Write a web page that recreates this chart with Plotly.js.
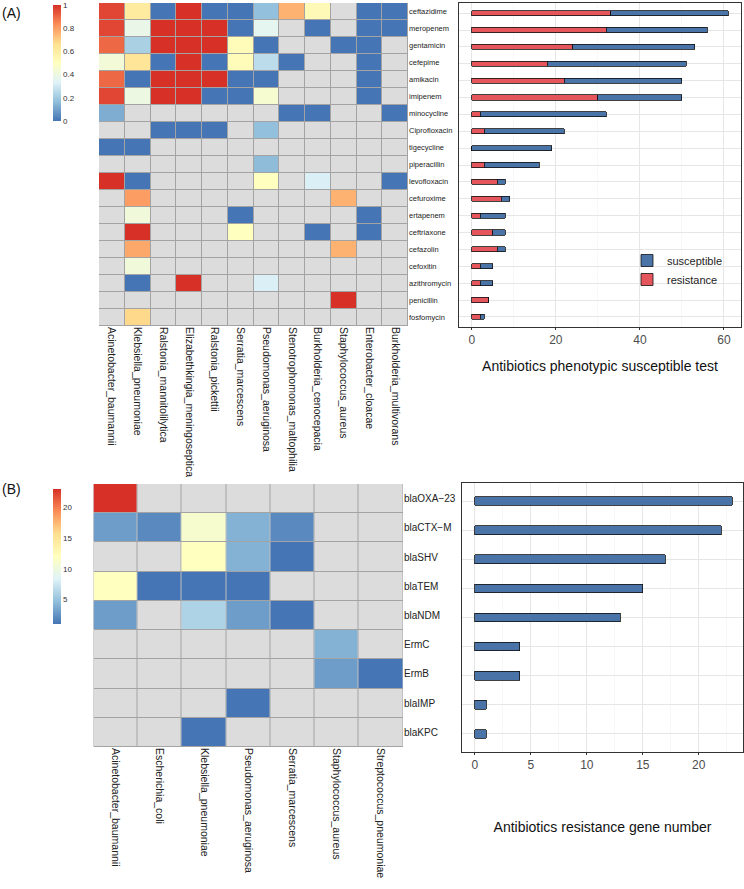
<!DOCTYPE html>
<html>
<head>
<meta charset="utf-8">
<script src="https://cdn.plot.ly/plotly-3.0.1.min.js"></script>
<style>html,body{margin:0;padding:0;background:#fff;}#chart{width:744px;height:889px;}</style>
</head>
<body>
<div id="chart"></div>
<script>
// ---------- DATA ----------
var speciesA = ["Acinetobacter_baumannii","Klebsiella_pneumoniae","Ralstonia_mannitolilytica","Elizabethkingia_meningoseptica","Ralstonia_pickettii","Serratia_marcescens","Pseudomonas_aeruginosa","Stenotrophomonas_maltophilia","Burkholderia_cenocepacia","Staphylococcus_aureus","Enterobacter_cloacae","Burkholderia_multivorans"];
var antibiotics = ["ceftazidime","meropenem","gentamicin","cefepime","amikacin","imipenem","minocycline","Ciprofloxacin","tigecycline","piperacillin","levofloxacin","cefuroxime","ertapenem","ceftriaxone","cefazolin","cefoxitin","azithromycin","penicillin","fosfomycin"];
var n = null;
var resistRate = [
  [0.96,0.61,0,1,0,0,0.17,0.76,0.53,n,0,0],
  [0.96,0.38,1,1,1,0,0.36,n,0,n,0,0],
  [0.90,0.22,1,1,1,0.52,0,n,n,0,0,n],
  [0.43,0.64,0,1,0,0.52,0.26,0,n,n,0,n],
  [0.90,0,1,1,1,0,0,n,n,n,0,n],
  [0.96,0.40,1,1,0,0,0.45,n,n,n,0,n],
  [0.125,n,n,n,n,n,n,0,0,n,n,0],
  [n,n,0,0,0,n,0.17,n,n,n,n,n],
  [0,0,n,n,n,n,n,n,n,n,n,n],
  [n,n,n,n,n,n,0.16,n,n,n,n,n],
  [1,0,n,n,n,n,0.50,n,0.32,n,n,0],
  [n,0.80,n,n,n,n,n,n,n,0.76,n,n],
  [n,0.42,n,n,n,0,n,n,n,n,0,n],
  [n,1,n,n,n,0.50,n,n,0,n,0,n],
  [n,0.78,n,n,n,n,n,n,n,0.76,n,n],
  [n,0.42,n,n,n,n,n,n,n,n,n,n],
  [n,0,n,1,n,n,0.32,n,n,n,n,n],
  [n,n,n,n,n,n,n,n,n,1,n,n],
  [n,0.68,n,n,n,n,n,n,n,n,n,n]
];
var resistanceCount  = [33,32,24,18,22,30,2,3,0,3,6,7,2,5,6,2,2,4,2];
var susceptibleCount = [28,24,29,33,28,20,30,19,19,13,2,2,6,3,2,3,3,0,1];

var speciesB = ["Acinetobacter_baumannii","Escherichia_coli","Klebsiella_pneumoniae","Pseudomonas_aeruginosa","Serratia_marcescens","Staphylococcus_aureus","Streptococcus_pneumoniae"];
var genes = ["blaOXA\u221223","blaCTX\u2212M","blaSHV","blaTEM","blaNDM","ErmC","ErmB","blaIMP","blaKPC"];
var geneCounts = [
  [23,n,n,n,n,n,n],
  [3,2,11,4,2,n,n],
  [n,n,12,4,1,n,n],
  [12,1,1,1,n,n,n],
  [3,n,6,3,1,n,n],
  [n,n,n,n,n,4,n],
  [n,n,n,n,n,3,1],
  [n,n,n,1,n,n,n],
  [n,n,1,n,n,n,n]
];
var geneTotals = [23,22,17,15,13,4,4,1,1];

// ---------- STYLE ----------
var W = 744, H = 889;
function fx(p){return p/W;}
function fy(p){return 1-p/H;}
var palette = [[0,'#4575B4'],[1/6,'#91BFDB'],[2/6,'#E0F3F8'],[0.5,'#FFFFBF'],[4/6,'#FEE090'],[5/6,'#FC8D59'],[1,'#D73027']];
var naGrey = [[0,'#DCDCDC'],[1,'#DCDCDC']];
var font = 'Liberation Sans, Arial, sans-serif';
var red = '#E4565B', blue = '#4A74A8';

function constGrid(rows, cols){
  return rows.map(function(){return cols.map(function(){return 1;});});
}

var traces = [];
// Heatmap A
traces.push({type:'heatmap', x:speciesA, y:antibiotics, z:constGrid(antibiotics,speciesA), colorscale:naGrey, showscale:false, xgap:1, ygap:1, hoverinfo:'skip', xaxis:'x', yaxis:'y'});
traces.push({type:'heatmap', x:speciesA, y:antibiotics, z:resistRate, colorscale:palette, zmin:0, zmax:1, xgap:1, ygap:1, xaxis:'x', yaxis:'y',
  colorbar:{x:fx(53), xanchor:'left', y:fy(5), yanchor:'top', len:116/H, lenmode:'fraction', thickness:8, xpad:0, ypad:0, outlinewidth:0,
    tickvals:[0,0.2,0.4,0.6,0.8,1], ticktext:['0','0.2','0.4','0.6','0.8','1'], ticks:'', tickfont:{size:8, color:'#333', family:font}}});
// Bars A
traces.push({type:'bar', orientation:'h', name:'resistance', y:antibiotics, x:resistanceCount, marker:{color:red, line:{color:'#111', width:0.8}}, width:0.3, xaxis:'x2', yaxis:'y2'});
traces.push({type:'bar', orientation:'h', name:'susceptible', y:antibiotics, x:susceptibleCount, marker:{color:blue, line:{color:'#111', width:0.8}}, width:0.3, xaxis:'x2', yaxis:'y2'});
// Heatmap B
traces.push({type:'heatmap', x:speciesB, y:genes, z:constGrid(genes,speciesB), colorscale:naGrey, showscale:false, xgap:1, ygap:1, hoverinfo:'skip', xaxis:'x3', yaxis:'y3'});
traces.push({type:'heatmap', x:speciesB, y:genes, z:geneCounts, colorscale:palette, zmin:1, zmax:23, xgap:1, ygap:1, xaxis:'x3', yaxis:'y3',
  colorbar:{x:fx(53), xanchor:'left', y:fy(489), yanchor:'top', len:135/H, lenmode:'fraction', thickness:8, xpad:0, ypad:0, outlinewidth:0,
    tickvals:[5,10,15,20], ticks:'', tickfont:{size:8, color:'#333', family:font}}});
// Bars B
traces.push({type:'bar', orientation:'h', y:genes, x:geneTotals, marker:{color:blue, line:{color:'#111', width:0.8}}, width:0.3, showlegend:false, xaxis:'x4', yaxis:'y4'});

var heatX = function(dom, size){return {domain:dom, showgrid:false, zeroline:false, showline:false, ticks:'', tickangle:90, tickfont:{size:size, color:'#222', family:font}, fixedrange:true};};
var heatY = function(dom, size, anchorX){return {domain:dom, anchor:anchorX, side:'right', autorange:'reversed', showgrid:false, zeroline:false, showline:false, ticks:'', tickfont:{size:size, color:'#222', family:font}};};
var barX = function(dom, range, dtick, anchorY){return {domain:dom, anchor:anchorY, range:range, dtick:dtick, showgrid:true, gridcolor:'#E6E6E6', gridwidth:1,
  minor:{dtick:dtick/2, showgrid:true, gridcolor:'#F3F3F3', gridwidth:0.6}, zeroline:false, showline:true, mirror:true, linecolor:'#333', linewidth:1,
  ticks:'outside', ticklen:2, tickcolor:'#333', tickfont:{size:12, color:'#4D4D4D', family:font}};};
var barY = function(dom, range, anchorX){return {domain:dom, anchor:anchorX, range:range, showticklabels:false, showgrid:true, gridcolor:'#E6E6E6', zeroline:false, showline:true, mirror:true, linecolor:'#333', linewidth:1, ticks:''};};

var xa1 = heatX([fx(99), fx(408)], 10.5);
xa1.anchor = 'y';
var xa3 = heatX([fx(93.5), fx(403)], 10.5);
xa3.anchor = 'y3';

var xa2 = barX([fx(459), fx(741)], [-3.05, 64.05], 20, 'y2');
xa2.title = {text:'Antibiotics phenotypic susceptible test', font:{size:14, color:'#111', family:font}, standoff:14};
var xa4 = barX([fx(462), fx(743)], [-1.15, 23.95], 5, 'y4');
xa4.title = {text:'Antibiotics resistance gene number', font:{size:14, color:'#111', family:font}, standoff:50};

var layout = {
  width:W, height:H, margin:{l:0, r:0, t:0, b:0}, paper_bgcolor:'#fff', plot_bgcolor:'rgba(0,0,0,0)',
  font:{family:font}, barmode:'stack', showlegend:true,
  legend:{x:fx(627), y:fy(246), xanchor:'left', yanchor:'top', traceorder:'reversed', bgcolor:'rgba(0,0,0,0)', font:{size:11, color:'#222', family:font}, tracegroupgap:0},
  xaxis:xa1, yaxis:heatY([fy(326), fy(3)], 7.5, 'x'),
  xaxis2:xa2, yaxis2:barY([fy(327), fy(3)], [18.6, -0.6], 'x2'),
  xaxis3:xa3, yaxis3:heatY([fy(747), fy(484)], 10, 'x3'),
  xaxis4:xa4, yaxis4:barY([fy(752), fy(483)], [8.62, -0.62], 'x4'),
  shapes:[
    {type:'rect', xref:'x domain', yref:'y domain', x0:0, x1:1, y0:0, y1:1, fillcolor:'#A3A3A3', line:{width:0}, layer:'below'},
    {type:'rect', xref:'x3 domain', yref:'y3 domain', x0:0, x1:1, y0:0, y1:1, fillcolor:'#A3A3A3', line:{width:0}, layer:'below'}
  ],
  annotations:[
    {text:'(A)', xref:'paper', yref:'paper', x:0, y:fy(3), xanchor:'left', yanchor:'top', showarrow:false, font:{size:14, color:'#111', family:font}},
    {text:'(B)', xref:'paper', yref:'paper', x:0, y:fy(479), xanchor:'left', yanchor:'top', showarrow:false, font:{size:14, color:'#111', family:font}}
  ]
};

Plotly.newPlot('chart', traces, layout, {displayModeBar:false, staticPlot:true});
</script>
</body>
</html>
